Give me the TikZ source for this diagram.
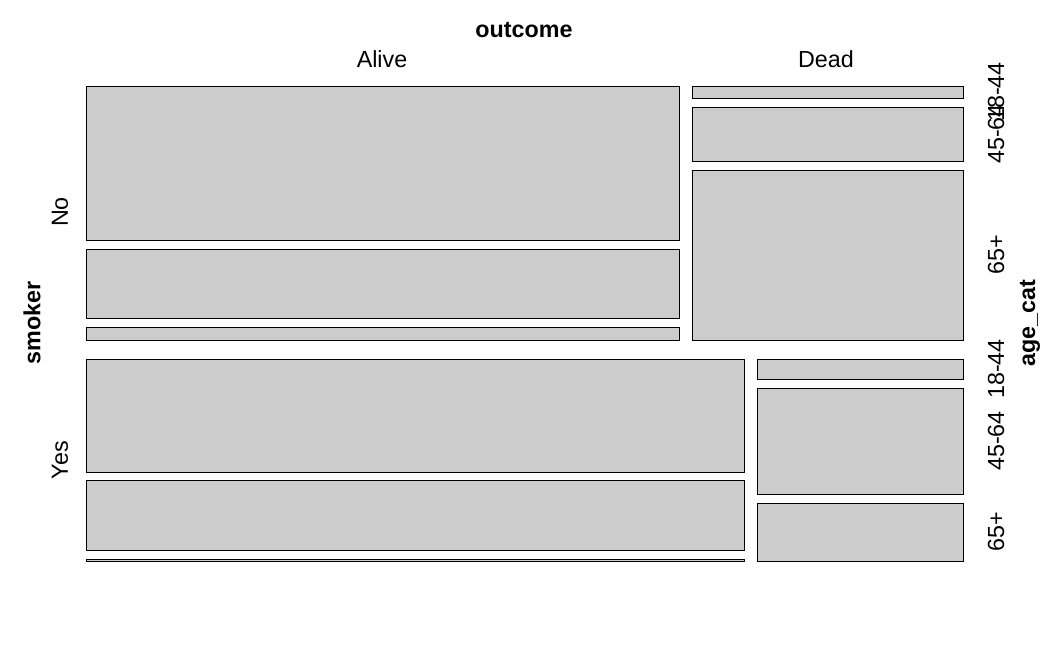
\documentclass[tikz,border=0pt]{standalone}
\usepackage{fontspec}
\setmainfont{Liberation Sans}
\usetikzlibrary{positioning}
\definecolor{cellgray}{HTML}{CCCCCC}
\tikzset{
  cell/.style={draw=black, fill=cellgray, line width=0.9pt},
  lab/.style={inner sep=0pt, font=\fontsize{23.3}{28}\selectfont},
  varlab/.style={lab, font=\fontsize{23.3}{28}\selectfont\bfseries},
}

\begin{document}
\begin{tikzpicture}[x=1pt, y=-1pt]
   \useasboundingbox (0,0) rectangle (1050,648);

   % smoker = No, outcome = Alive
   \draw[cell] (86,86)  rectangle (679,240);
   \draw[cell] (86,249) rectangle (679,318);
   \draw[cell] (86,327) rectangle (679,340);

   % smoker = No, outcome = Dead
   \draw[cell] (692,86)  rectangle (963,98);
   \draw[cell] (692,107) rectangle (963,161);
   \draw[cell] (692,170) rectangle (963,340);

   % smoker = Yes, outcome = Alive
   \draw[cell] (86,359) rectangle (744,472);
   \draw[cell] (86,480) rectangle (744,550);
   \draw[cell] (86,559) rectangle (744,561.5);

   % smoker = Yes, outcome = Dead
   \draw[cell] (757,359) rectangle (963,379);
   \draw[cell] (757,388) rectangle (963,494);
   \draw[cell] (757,503) rectangle (963,561);

   % outcome labels
   \node[varlab] (outcome) at (524,30) {outcome};
   \node[lab]    (alive)   at (382,59) {Alive};
   \node[lab]    (dead)    at (826,59) {Dead};

   % smoker labels
   \node[varlab, rotate=90] (smoker) at (32,323) {smoker};
   \node[lab, rotate=90]    (no)     at (60,212) {No};
   \node[lab, rotate=90]    (yes)    at (60,460) {Yes};

   % age_cat labels
   \node[lab, rotate=90] (no18)  at (996,92)  {18-44};
   \node[lab, rotate=90] (no45)  at (996,134) {45-64};
   \node[lab, rotate=90] (no65)  at (996,255) {65+};
   \node[lab, rotate=90] (yes18) at (996,369) {18-44};
   \node[lab, rotate=90] (yes45) at (996,441) {45-64};
   \node[lab, rotate=90] (yes65) at (996,532) {65+};
   \node[varlab, rotate=90] (agecat) at (1030,323) {age\_cat};
\end{tikzpicture}
\end{document}
